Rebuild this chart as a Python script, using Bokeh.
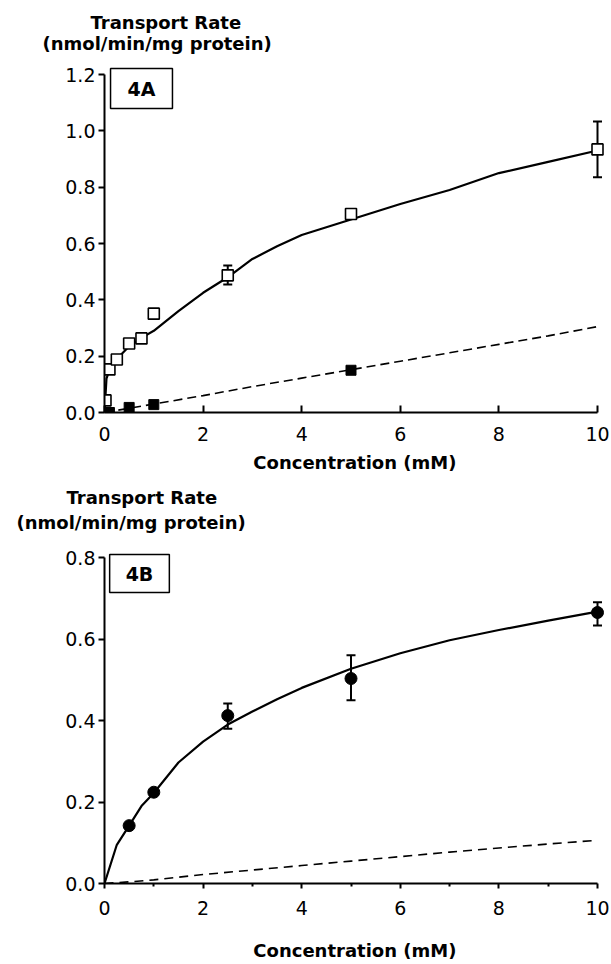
from bokeh.plotting import figure
from bokeh.models import (ColumnDataSource, Whisker, TeeHead, Label, FixedTicker,
                          Range1d, CustomJSTickFormatter, Title)
from bokeh.layouts import column
from bokeh.embed import file_html
from bokeh.resources import INLINE

# ---------------- data: panel 4A ----------------
conc_4a_open = [0.02, 0.1, 0.25, 0.5, 0.75, 1.0, 2.5, 5.0, 10.0]
rate_4a_open = [0.043, 0.153, 0.188, 0.245, 0.263, 0.351, 0.487, 0.705, 0.934]
err_x_4a = [2.5, 10.0]
err_lo_4a = [0.454, 0.835]
err_hi_4a = [0.522, 1.033]
conc_4a_filled = [0.1, 0.5, 1.0, 5.0]
rate_4a_filled = [0.0, 0.018, 0.028, 0.15]
fit_x_4a = [0, 0.04, 0.1, 0.25, 0.5, 0.75, 1, 1.5, 2, 2.5, 3, 3.5, 4, 5, 6, 7, 8, 9, 10]
fit_y_4a = [0, 0.12, 0.15, 0.19, 0.235, 0.265, 0.29, 0.36, 0.425, 0.48, 0.545,
            0.59, 0.63, 0.685, 0.74, 0.79, 0.85, 0.89, 0.93]
diff_x_4a = [0, 1, 2, 3, 4, 5, 6, 7, 8, 9, 10]
diff_y_4a = [0, 0.03, 0.06, 0.092, 0.122, 0.152, 0.182, 0.212, 0.242, 0.272, 0.305]

# ---------------- data: panel 4B ----------------
conc_4b = [0.5, 1.0, 2.5, 5.0, 10.0]
rate_4b = [0.142, 0.224, 0.412, 0.503, 0.665]
err_x_4b = [2.5, 5.0, 10.0]
err_lo_4b = [0.38, 0.45, 0.633]
err_hi_4b = [0.442, 0.56, 0.69]
fit_x_4b = [0, 0.25, 0.5, 0.75, 1, 1.5, 2, 2.5, 3, 3.5, 4, 5, 6, 7, 8, 9, 10]
fit_y_4b = [0, 0.095, 0.142, 0.19, 0.222, 0.297, 0.348, 0.39, 0.422, 0.452, 0.48,
            0.527, 0.565, 0.597, 0.622, 0.645, 0.667]
diff_x_4b = [0, 0.5, 1, 2, 3, 4, 5, 6, 7, 8, 9, 10]
diff_y_4b = [0, 0.004, 0.009, 0.022, 0.033, 0.044, 0.055, 0.066, 0.077, 0.087, 0.097, 0.106]

x_ticks = [0, 2, 4, 6, 8, 10]
x_minor = [1, 3, 5, 7, 9]
y_ticks_4a = [0.0, 0.2, 0.4, 0.6, 0.8, 1.0, 1.2]
y_ticks_4b = [0.0, 0.2, 0.4, 0.6, 0.8]

X_TITLE = "Concentration  (mM)"
Y_TITLE_1 = "Transport Rate"
Y_TITLE_2 = "(nmol/min/mg  protein)"

FONT = "DejaVu Sans"

# x scale: 0 -> 104 px, 10 -> 597 px; frame spans 104..611 px
PX_PER_X = 49.3
X_END = 10 + 14 / PX_PER_X


def style_axes(p, yticks, ymax, top_panel):
    p.title.visible = False
    for ax in (p.xaxis[0], p.yaxis[0]):
        ax.axis_line_width = 2
        ax.axis_line_color = "black"
        ax.major_tick_line_width = 2
        ax.major_tick_line_color = "black"
        ax.major_label_text_font = FONT
        ax.major_label_text_font_size = "19px"
        ax.major_label_text_color = "black"
        ax.axis_label_text_font = FONT
        ax.axis_label_text_font_style = "bold"
        ax.axis_label_text_font_size = "18px"
        ax.axis_label_text_color = "black"
    xa = p.xaxis[0]
    xa.ticker = FixedTicker(ticks=x_ticks, minor_ticks=x_minor)
    xa.bounds = (0, 10)
    xa.axis_label = X_TITLE
    if top_panel:
        xa.major_tick_in = 7
        xa.major_tick_out = 0
        xa.minor_tick_line_color = None
        xa.major_label_standoff = 10
        xa.axis_label_standoff = 8
    else:
        xa.major_tick_in = 0
        xa.major_tick_out = 5
        xa.minor_tick_in = 0
        xa.minor_tick_out = 3
        xa.minor_tick_line_width = 2
        xa.minor_tick_line_color = "black"
        xa.major_label_standoff = 12
        xa.axis_label_standoff = 22
    ya = p.yaxis[0]
    ya.ticker = FixedTicker(ticks=yticks)
    ya.bounds = (0, ymax)
    ya.major_tick_in = 0
    ya.major_tick_out = 6
    ya.minor_tick_line_color = None
    ya.major_label_standoff = 3
    ya.formatter = CustomJSTickFormatter(code="return tick.toFixed(1);")
    p.xgrid.visible = False
    p.ygrid.visible = False
    p.outline_line_color = None


def ytitle(text, offset, standoff, size="18px"):
    return Title(text=text, align="left", vertical_align="middle", offset=offset,
                 standoff=standoff, text_font=FONT, text_font_style="bold",
                 text_font_size=size, text_color="black")


def add_panel_tag(p, ytop, txt, dx, dy, padx, pady):
    p.add_layout(Label(x=0, y=ytop, x_offset=dx, y_offset=dy, text=txt,
                       text_font=FONT, text_font_style="bold",
                       text_font_size="19px", text_align="center",
                       text_baseline="middle", text_color="black",
                       padding=(padx, pady), border_line_color="black",
                       border_line_width=1.5, background_fill_color="white"))


def add_whiskers(p, xs, lo, hi):
    src = ColumnDataSource(dict(x=xs, lo=lo, hi=hi))
    p.add_layout(Whisker(source=src, base="x", lower="lo", upper="hi",
                         line_color="black", line_width=2,
                         upper_head=TeeHead(size=9, line_width=2, line_color="black"),
                         lower_head=TeeHead(size=9, line_width=2, line_color="black")))


# ---------------- panel 4A (0..484 px) ----------------
# 1.2 at 74 px, 0 at 412 px; frame top expected at 53 px
k1 = 338 / 1.2
p1 = figure(width=611, height=484, output_backend="svg", toolbar_location=None,
            x_range=Range1d(0, X_END), y_range=Range1d(0, 1.2 + 21 / k1),
            min_border_left=104, min_border_right=0,
            min_border_top=0, min_border_bottom=72,
            background_fill_color="white", border_fill_color="white")
style_axes(p1, y_ticks_4a, 1.2, True)
# stacked from the frame outward
p1.add_layout(ytitle(Y_TITLE_2, -62, -2), "above")
p1.add_layout(ytitle(Y_TITLE_1, -14, -2), "above")
p1.add_layout(ytitle(" ", 0, 0, "8px"), "above")

p1.line(diff_x_4a, diff_y_4a, line_color="black", line_width=1.6, line_dash="9 5")
p1.line(fit_x_4a, fit_y_4a, line_color="black", line_width=2.2)
add_whiskers(p1, err_x_4a, err_lo_4a, err_hi_4a)
p1.scatter(conc_4a_open, rate_4a_open, marker="square", size=11,
           fill_color="white", line_color="black", line_width=1.6)
p1.scatter(conc_4a_filled, rate_4a_filled, marker="square", size=10,
           fill_color="black", line_color="black", line_width=1)
add_panel_tag(p1, 1.2, "4A", 37, -14, 17, 9)

# ---------------- panel 4B (484..964 px) ----------------
# 0.8 at 557 px, 0 at 883 px; frame top expected at 534 px
k2 = 326 / 0.8
p2 = figure(width=611, height=480, output_backend="svg", toolbar_location=None,
            x_range=Range1d(0, X_END), y_range=Range1d(0, 0.8 + 23 / k2),
            min_border_left=104, min_border_right=0,
            min_border_top=0, min_border_bottom=81,
            background_fill_color="white", border_fill_color="white")
style_axes(p2, y_ticks_4b, 0.8, False)
p2.add_layout(ytitle(Y_TITLE_2, -88, 1), "above")
p2.add_layout(ytitle(Y_TITLE_1, -38, 3), "above")

p2.line(diff_x_4b, diff_y_4b, line_color="black", line_width=1.6, line_dash="9 6")
p2.line(fit_x_4b, fit_y_4b, line_color="black", line_width=2.2)
add_whiskers(p2, err_x_4b, err_lo_4b, err_hi_4b)
p2.scatter(conc_4b, rate_4b, marker="circle", size=12,
           fill_color="black", line_color="black", line_width=1)
add_panel_tag(p2, 0.8, "4B", 35, -16, 16, 8)

layout = column(p1, p2, spacing=0)
open("out.html", "w").write(file_html(layout, INLINE))
